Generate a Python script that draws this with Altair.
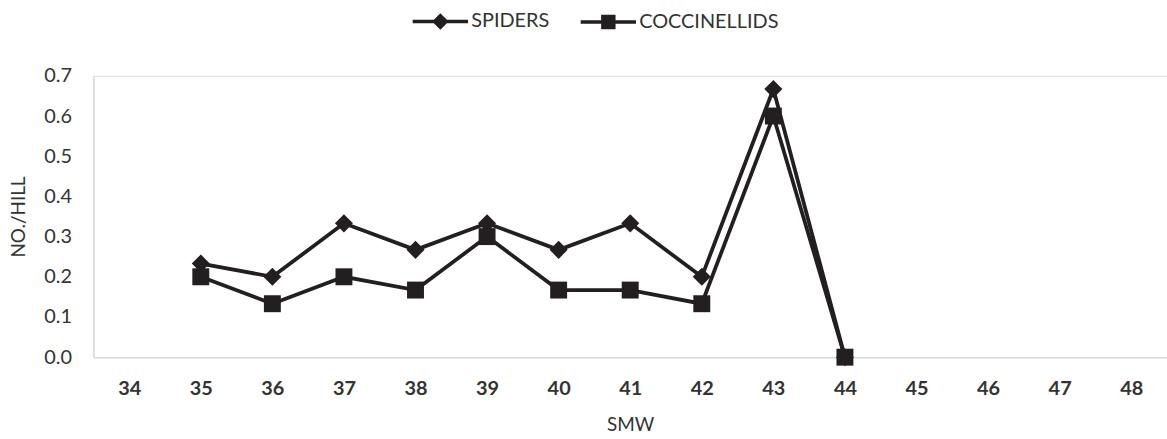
import altair as alt
import pandas as pd

# Standard meteorological weeks shown on the axis
smw = [str(w) for w in range(34, 49)]

# Observed weeks and mean counts per hill
weeks_obs = ["35", "36", "37", "38", "39", "40", "41", "42", "43", "44"]
spiders = [0.233, 0.200, 0.333, 0.267, 0.333, 0.267, 0.333, 0.200, 0.667, 0.0]
coccinellids = [0.200, 0.133, 0.200, 0.167, 0.300, 0.167, 0.167, 0.133, 0.600, 0.0]

series_names = ["SPIDERS", "COCCINELLIDS"]
series_markers = ["diamond", "square"]
marker_sizes = [330, 290]

rows = []
for name, vals in zip(series_names, [spiders, coccinellids]):
    for w, v in zip(weeks_obs, vals):
        rows.append({"SMW": w, "value": v, "series": name})
df = pd.DataFrame(rows)

INK = "#231f20"
TEXT = "#333333"
FONT = "Lato"

x_enc = alt.X(
    "SMW:O",
    scale=alt.Scale(domain=smw),
    axis=alt.Axis(
        title="SMW",
        labelAngle=0,
        labelFont=FONT,
        labelFontWeight="bold",
        labelFontSize=20,
        labelColor=TEXT,
        labelPadding=22,
        titleFont=FONT,
        titleFontWeight="normal",
        titleFontSize=19,
        titleColor=TEXT,
        titlePadding=17,
        ticks=False,
        domainColor="#d9d9d9",
        domainWidth=1.5,
        grid=False,
    ),
)
y_enc = alt.Y(
    "value:Q",
    scale=alt.Scale(domain=[0, 0.7]),
    axis=alt.Axis(
        title="NO./HILL",
        values=[0, 0.1, 0.2, 0.3, 0.4, 0.5, 0.6, 0.7],
        format=".1f",
        labelFont=FONT,
        labelFontSize=20,
        labelColor=TEXT,
        labelPadding=22,
        titleFont=FONT,
        titleFontWeight="normal",
        titleFontSize=19,
        titleColor=TEXT,
        titlePadding=15,
        ticks=False,
        domainColor="#d9d9d9",
        domainWidth=1.5,
        grid=False,
    ),
)

base = alt.Chart(df)

lines = base.mark_line(color=INK, strokeWidth=3.8).encode(
    x=x_enc, y=y_enc, detail="series:N"
)

# One marker layer per series, each with its own fixed shape
marker_layers = [
    base.transform_filter(alt.datum.series == name)
    .mark_point(filled=True, color=INK, opacity=1, size=size, shape=shape)
    .encode(x=x_enc, y=y_enc)
    for name, shape, size in zip(series_names, series_markers, marker_sizes)
]

# Legend glyphs: a thin filled bar (the line) joined with the series marker
legend_paths = [
    "M-1,-0.065L1,-0.065L1,0.065L-1,0.065Z"
    "M0,-0.3L0.3,0L0,0.3L-0.3,0Z",
    "M-1,-0.065L1,-0.065L1,0.065L-1,0.065Z"
    "M-0.26,-0.26L0.26,-0.26L0.26,0.26L-0.26,0.26Z",
]
legend_layer = base.transform_filter("datum.value < 0").mark_point(
    filled=True, color=INK, opacity=1
).encode(
    x=x_enc,
    y=y_enc,
    shape=alt.Shape(
        "series:N",
        scale=alt.Scale(domain=series_names, range=legend_paths),
        legend=alt.Legend(
            title=None,
            orient="none",
            legendX=320,
            legendY=-84,
            direction="horizontal",
            labelFont=FONT,
            labelFontSize=20,
            labelColor=TEXT,
            symbolSize=3100,
            symbolFillColor=INK,
            symbolOpacity=1,
            columnPadding=28,
            labelOffset=2,
        ),
    ),
)

chart = (
    alt.layer(lines, *marker_layers, legend_layer)
    .properties(
        width=1080,
        height=283,
        autosize=alt.AutoSizeParams(type="none"),
        padding={"left": 94, "top": 75, "right": 0, "bottom": 81},
    )
    .configure_view(stroke=None)
    .configure(background="white")
)

chart.save("out.html", embed_options={"renderer": "svg", "actions": False})
